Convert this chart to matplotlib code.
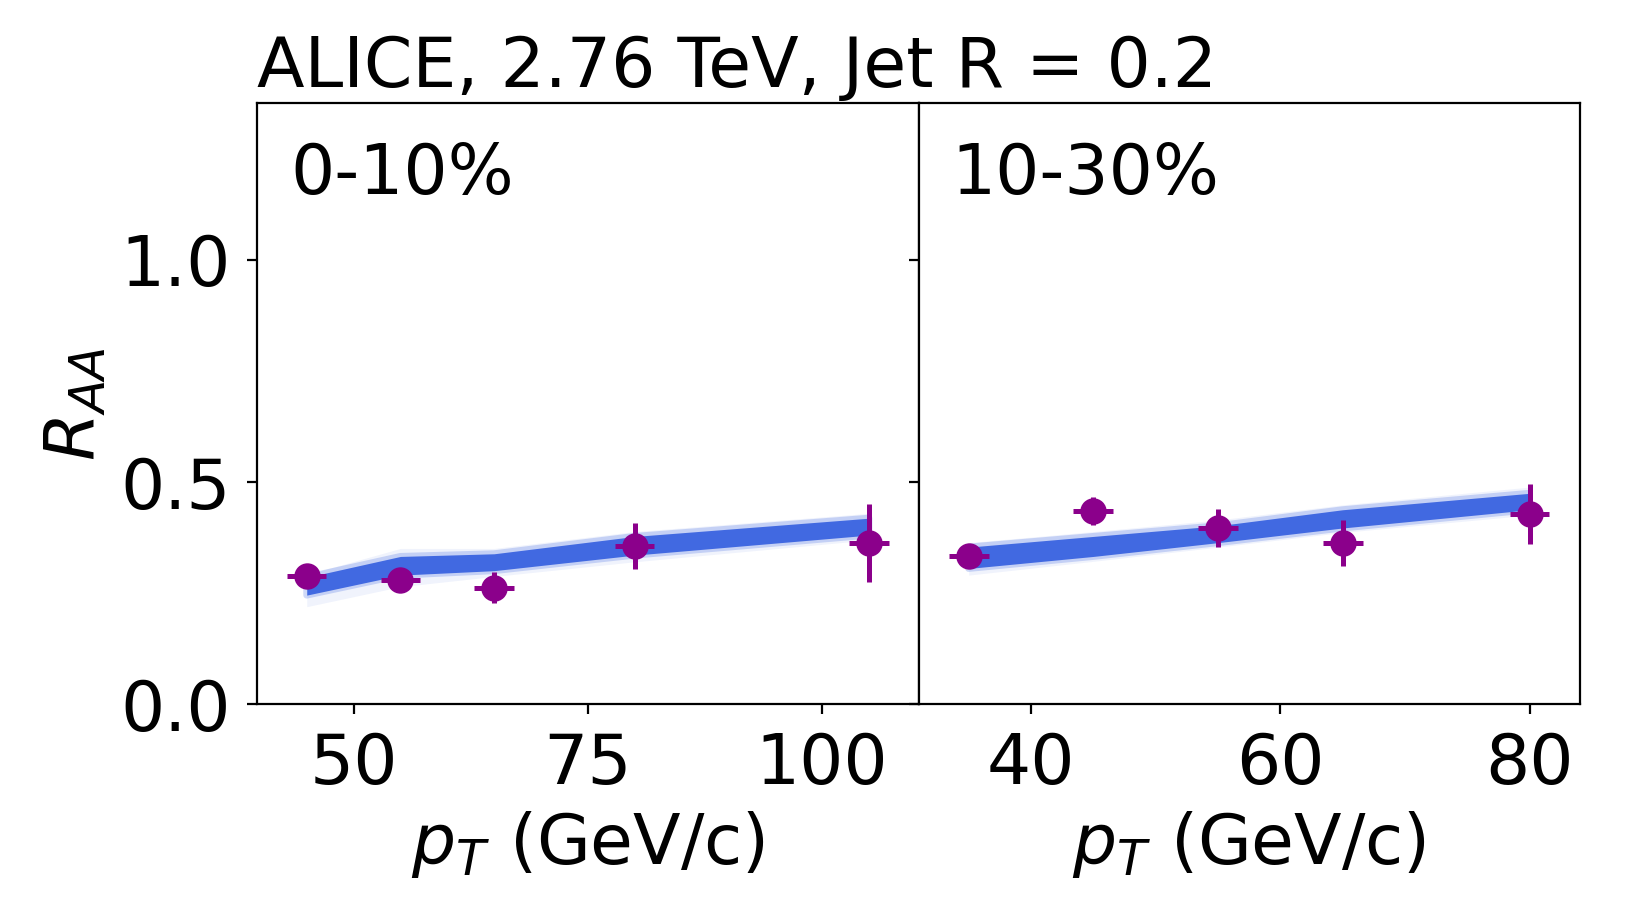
import matplotlib
matplotlib.use("Agg")
import matplotlib.pyplot as plt

# ALICE jet R_AA, R = 0.2, two centrality classes
pt_0_10 = [45, 55, 65, 80, 105]
raa_0_10 = [0.290, 0.279, 0.263, 0.357, 0.363]
raa_err_0_10 = [0.018, 0.018, 0.034, 0.052, 0.088]
pt_err_0_10 = [2.1, 2.1, 2.1, 2.1, 2.1]

pt_10_30 = [35, 45, 55, 65, 80]
raa_10_30 = [0.333, 0.435, 0.397, 0.363, 0.428]
raa_err_10_30 = [0.018, 0.032, 0.043, 0.051, 0.067]
pt_err_10_30 = [1.6, 1.6, 1.6, 1.6, 1.6]

# model band (dense core and faint outer envelope)
model_pt_0_10 = [45, 55, 65, 80, 105]
core_lo_0_10 = [0.246, 0.291, 0.301, 0.336, 0.381]
core_hi_0_10 = [0.286, 0.333, 0.339, 0.378, 0.419]
outer_lo_0_10 = [0.220, 0.265, 0.288, 0.321, 0.370]
outer_hi_0_10 = [0.292, 0.351, 0.351, 0.389, 0.430]

model_pt_10_30 = [35, 45, 55, 65, 80]
core_lo_10_30 = [0.306, 0.333, 0.364, 0.397, 0.438]
core_hi_10_30 = [0.354, 0.378, 0.402, 0.438, 0.475]
outer_lo_10_30 = [0.291, 0.322, 0.354, 0.387, 0.426]
outer_hi_10_30 = [0.364, 0.389, 0.415, 0.449, 0.489]

panel_labels = ["0-10%", "10-30%"]
title = "ALICE, 2.76 TeV, Jet R = 0.2"
yticks = [0.0, 0.5, 1.0]

band_color = "#4169E1"
data_color = "#8B008B"

fig = plt.figure(figsize=(8.195, 4.545), dpi=200)
ax1 = fig.add_axes([0.1568, 0.2250, 0.4037, 0.6612])
ax2 = fig.add_axes([0.5605, 0.2250, 0.4032, 0.6612], sharey=ax1)

panels = [
    (ax1, pt_0_10, raa_0_10, raa_err_0_10, pt_err_0_10,
     model_pt_0_10, core_lo_0_10, core_hi_0_10, outer_lo_0_10, outer_hi_0_10, [50, 75, 100]),
    (ax2, pt_10_30, raa_10_30, raa_err_10_30, pt_err_10_30,
     model_pt_10_30, core_lo_10_30, core_hi_10_30, outer_lo_10_30, outer_hi_10_30, [40, 60, 80]),
]

for i, (ax, x, y, yerr, xerr, mx, clo, chi, olo, ohi, xt) in enumerate(panels):
    # faint envelope, softened edge, then the dense core
    ax.fill_between(mx, olo, ohi, color=band_color, alpha=0.08, lw=0, zorder=1)
    ax.fill_between(mx, clo, chi, facecolor="none", edgecolor=band_color,
                    alpha=0.25, lw=2.5, zorder=1.5)
    ax.fill_between(mx, clo, chi, color=band_color, alpha=1.0, lw=0, zorder=2)
    ax.errorbar(x, y, yerr=yerr, xerr=xerr, fmt="o", color=data_color,
                ms=8.5, elinewidth=1.8, capsize=0, zorder=3)
    ax.set_xticks(xt)
    ax.tick_params(labelsize=25, length=3.5, width=0.8, pad=6)
    ax.set_xlabel(r"$p_T$ (GeV/c)", fontsize=25)
    ax.text(0.05, 0.849, panel_labels[i], transform=ax.transAxes,
            fontsize=25, ha="left", va="baseline")

ax1.set_ylim(0, 1.352)
ax1.set_yticks(yticks)
ax1.set_ylabel(r"$R_{AA}$", fontsize=25)
ax1.set_title(title, loc="left", fontsize=25)
ax2.tick_params(axis="y", labelleft=False)

fig.savefig("out.png", dpi=200)
